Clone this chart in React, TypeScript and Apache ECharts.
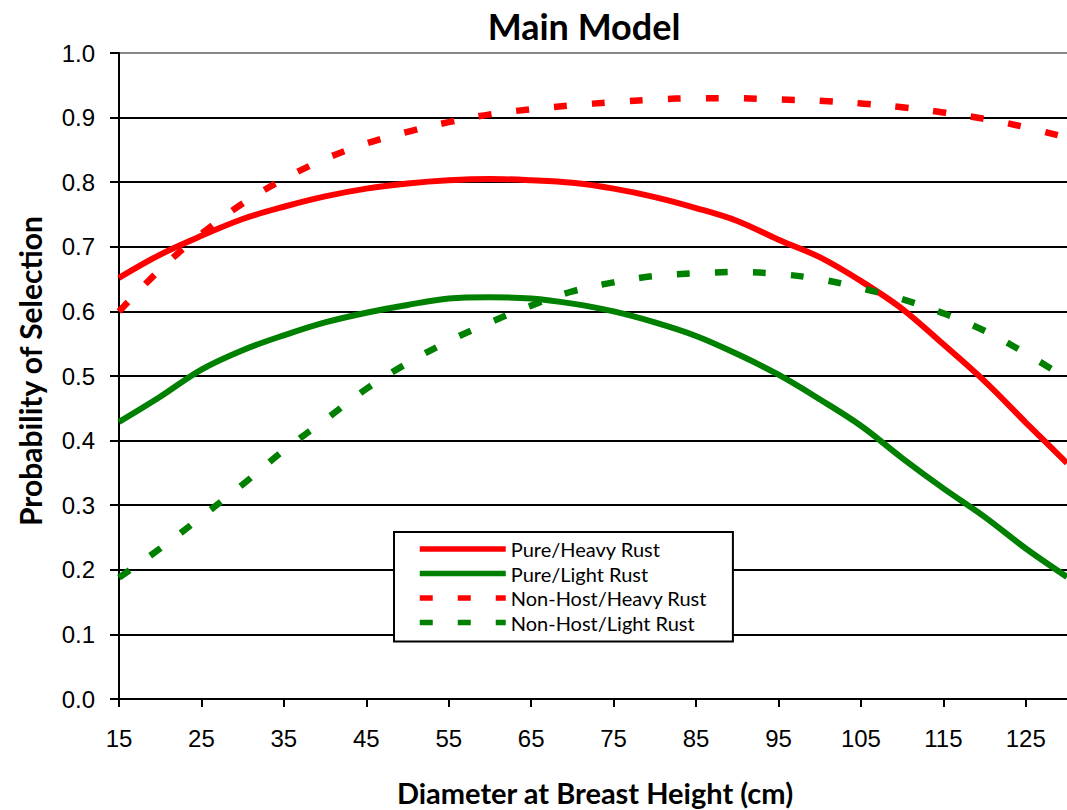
import React, { useEffect, useRef } from "react";
import * as echarts from "echarts";

const dbh = [15, 20, 25, 30, 35, 40, 45, 50, 55, 60, 65, 70, 75, 80, 85, 90, 95, 100, 105, 110, 115, 120, 125, 130];
const pureHeavy = [0.652, 0.688, 0.717, 0.743, 0.762, 0.778, 0.790, 0.798, 0.803, 0.805, 0.803, 0.799, 0.790, 0.777, 0.760, 0.740, 0.711, 0.684, 0.647, 0.604, 0.549, 0.492, 0.428, 0.365];
const pureLight = [0.429, 0.468, 0.510, 0.540, 0.563, 0.583, 0.598, 0.610, 0.620, 0.622, 0.620, 0.612, 0.600, 0.583, 0.562, 0.534, 0.502, 0.464, 0.423, 0.373, 0.326, 0.282, 0.233, 0.189];
const nonHostHeavy = [0.600, 0.665, 0.720, 0.767, 0.805, 0.836, 0.860, 0.878, 0.893, 0.905, 0.913, 0.919, 0.924, 0.928, 0.930, 0.930, 0.928, 0.926, 0.922, 0.916, 0.908, 0.898, 0.885, 0.869];
const nonHostLight = [0.188, 0.233, 0.282, 0.332, 0.385, 0.432, 0.480, 0.520, 0.554, 0.583, 0.609, 0.631, 0.645, 0.655, 0.659, 0.661, 0.658, 0.650, 0.636, 0.619, 0.597, 0.570, 0.535, 0.496];
const xTicks = [15, 25, 35, 45, 55, 65, 75, 85, 95, 105, 115, 125];
const seriesNames = ["Pure/Heavy Rust", "Pure/Light Rust", "Non-Host/Heavy Rust", "Non-Host/Light Rust"];

const CAL = "Lato, 'Open Sans', sans-serif";
const ARIAL = "'Liberation Sans', Arial, sans-serif";

export default function App() {
  const ref = useRef<HTMLDivElement>(null);
  useEffect(() => {
    if (!ref.current) return;
    const chart = echarts.init(ref.current, undefined, { renderer: "svg" });
    const toData = (vals: number[]) => dbh.map((x, i) => [x, vals[i]]);
    const dash = [13, 25];
    const mk = (name: string, vals: number[], color: string, dashed: boolean) => ({
      name,
      type: "line",
      data: toData(vals),
      symbol: "none",
      smooth: 0.35,
      color,
      lineStyle: { color, width: dashed ? 6.5 : 6, type: dashed ? dash : "solid", cap: "butt" },
    });
    const splitColors = ["#000", "#000", "#000", "#000", "#000", "#000", "#000", "#000", "#000", "#000", "#888"];
    chart.setOption({
      animation: false,
      backgroundColor: "#fff",
      grid: { left: 119, right: 0, top: 53, bottom: 111, containLabel: false },
      xAxis: {
        type: "value",
        min: 15,
        max: 130,
        axisLine: { show: true, lineStyle: { color: "#000", width: 2 } },
        axisTick: { show: true, inside: false, length: 8, customValues: xTicks, lineStyle: { color: "#000", width: 2 } },
        axisLabel: { customValues: xTicks, fontFamily: ARIAL, fontSize: 24, color: "#000", margin: 27 },
        splitLine: { show: false },
      },
      yAxis: {
        type: "value",
        min: 0,
        max: 1,
        interval: 0.1,
        axisLine: { show: true, lineStyle: { color: "#000", width: 2 } },
        axisTick: { show: true, inside: false, length: 9, lineStyle: { color: "#000", width: 2 } },
        axisLabel: { fontFamily: ARIAL, fontSize: 24, color: "#000", margin: 24, formatter: (v: number) => v.toFixed(1) },
        splitLine: { show: true, lineStyle: { color: splitColors, width: 2 } },
      },
      legend: {
        data: seriesNames,
        orient: "vertical",
        left: 394,
        top: 532,
        itemWidth: 86,
        itemHeight: 14,
        itemGap: 4.5,
        padding: [7, 26, 9, 23],
        borderColor: "#000",
        borderWidth: 2,
        backgroundColor: "#fff",
        lineStyle: { width: 5.5 },
        itemStyle: { opacity: 0, borderWidth: 0 },
        textStyle: { fontFamily: CAL, fontSize: 20, color: "#000", lineHeight: 20 },
      },
      graphic: [
        { type: "text", x: 584, y: 26, style: { text: "Main Model", fontFamily: CAL, fontWeight: "bold", fontSize: 36, fill: "#000", textAlign: "center", textVerticalAlign: "middle" } },
        { type: "text", x: 595, y: 792, style: { text: "Diameter at Breast Height (cm)", fontFamily: CAL, fontWeight: "bold", fontSize: 29, fill: "#000", textAlign: "center", textVerticalAlign: "middle" } },
        { type: "text", x: 30, y: 371, rotation: Math.PI / 2, style: { text: "Probability of Selection", fontFamily: CAL, fontWeight: "bold", fontSize: 30, fill: "#000", textAlign: "center", textVerticalAlign: "middle" } },
      ],
      series: [
        mk(seriesNames[0], pureHeavy, "#FF0000", false),
        mk(seriesNames[1], pureLight, "#008000", false),
        mk(seriesNames[2], nonHostHeavy, "#FF0000", true),
        mk(seriesNames[3], nonHostLight, "#008000", true),
      ],
    });
    return () => chart.dispose();
  }, []);
  return <div ref={ref} style={{ position: "absolute", left: 0, top: 0, width: 1067, height: 810 }} />;
}
